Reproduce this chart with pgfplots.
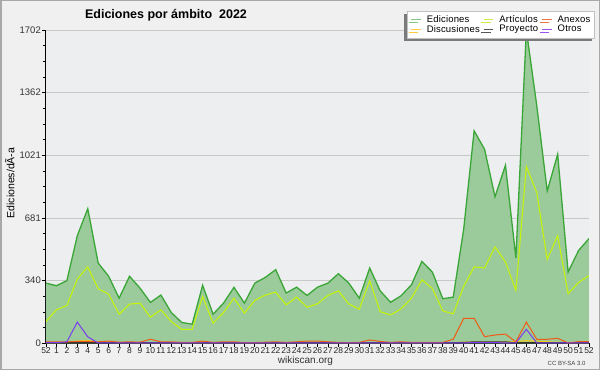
\documentclass[border=0pt]{standalone}
\usepackage{fontspec}
\setmainfont{Liberation Sans}
\usepackage{pgfplots}
\usepackage{pgfplotstable}
\pgfplotsset{compat=1.18}
\usetikzlibrary{shadows}
\definecolor{outerbg}{HTML}{F0F0F0}
\definecolor{plotbg}{HTML}{EDEEF0}
\definecolor{bordergray}{HTML}{A8A8A8}
\definecolor{gridgray}{HTML}{C8C8C8}
\definecolor{edline}{HTML}{3AA637}
\definecolor{edfill}{HTML}{9BCB9A}
\definecolor{edleg}{HTML}{85C985}
\definecolor{arline}{HTML}{C8F500}
\definecolor{arleg}{HTML}{CCEE44}
\definecolor{anline}{HTML}{F05A14}
\definecolor{anleg}{HTML}{EE7744}
\definecolor{diline}{HTML}{FFCC00}
\definecolor{dileg}{HTML}{FFCC44}
\definecolor{prline}{HTML}{333333}
\definecolor{prleg}{HTML}{555555}
\definecolor{otline}{HTML}{7A3BF0}
\definecolor{otleg}{HTML}{9955EE}
\definecolor{shadowgray}{HTML}{7A7A7A}
\definecolor{legborder}{HTML}{C0C0C0}
\newcommand\ls{\rule[-1.5pt]{0pt}{7.3pt}}

\pgfplotstableread{
i ed ar an di pr ot
0 327 118 8 4 3 3
1 313 182 8 4 3 3
2 340 205 8 5 3 8
3 585 349 10 12 3 115
4 731 415 10 14 3 35
5 436 296 8 8 3 2
6 364 267 12 5 3 2
7 245 158 6 4 3 2
8 364 213 8 4 3 2
9 300 218 6 4 3 2
10 222 142 22 4 3 2
11 262 182 8 4 3 2
12 167 118 8 4 3 2
13 113 76 5 3 2 2
14 104 76 5 3 2 2
15 315 255 12 4 3 2
16 158 109 5 3 3 2
17 218 167 8 4 3 2
18 304 245 8 4 3 2
19 218 164 4 4 3 2
20 327 233 4 4 3 2
21 358 262 6 4 3 2
22 400 278 8 4 3 2
23 273 209 5 4 3 2
24 305 251 8 4 3 2
25 260 196 12 4 3 2
26 305 215 12 4 3 2
27 327 260 8 4 3 2
28 378 285 5 4 3 2
29 327 213 4 4 3 2
30 245 185 5 4 3 2
31 409 340 18 4 3 2
32 285 172 10 4 3 2
33 223 154 5 4 3 2
34 258 187 8 4 3 2
35 318 245 5 4 3 2
36 445 345 5 4 3 2
37 387 298 5 4 3 2
38 242 176 5 4 3 2
39 251 160 22 4 3 2
40 620 309 136 6 5 2
41 1154 415 136 6 8 4
42 1054 409 36 6 8 4
43 796 524 45 6 8 4
44 967 442 50 6 8 2
45 464 287 8 10 3 2
46 1702 960 115 14 3 76
47 1290 818 22 12 3 2
48 827 455 22 8 3 2
49 1027 585 27 6 3 2
50 387 269 2 4 3 2
51 504 331 9 4 3 2
52 569 367 9 4 3 2
}\datatable

\begin{document}
\begin{tikzpicture}[x=1pt,y=1pt]
\path[use as bounding box] (0,0) rectangle (600,370);
\fill[outerbg] (0,0) rectangle (600,370);
\draw[bordergray, line width=1.5pt] (0.75,0.75) rectangle (599.25,369.25);
\begin{axis}[
  scale only axis, width=543pt, height=313.3pt,
  at={(46pt,26.7pt)}, anchor=south west,
  xmin=0, xmax=52, ymin=0, ymax=1702,
  axis background/.style={fill=plotbg},
  axis x line*=bottom, axis y line*=left,
  axis line style={black, line width=1pt, -},
  xtick={0,...,52},
  xticklabels={52,1,2,3,4,5,6,7,8,9,10,11,12,13,14,15,16,17,18,19,20,21,22,23,24,25,26,27,28,29,30,31,32,33,34,35,36,37,38,39,40,41,42,43,44,45,46,47,48,49,50,51,52},
  ytick={0,340.4,680.8,1021.2,1361.6,1702},
  yticklabels={0,340,681,1021,1362,1702},
  minor y tick num=3,
  tick align=outside,
  major tick length=3.5pt, minor tick length=3pt,
  tick style={black, line width=0.8pt},
  ymajorgrids, major grid style={gridgray, line width=0.9pt},
  xticklabel style={font=\fontsize{8.5}{9}\selectfont, inner sep=1pt, text=black!85},
  yticklabel style={font=\fontsize{9.5}{10}\selectfont, inner sep=1.5pt, text=black!80},
  legend columns=3,
  legend image code/.code={\draw[#1] (0pt,0pt) -- (9.5pt,0pt);},
  legend style={at={(1,1)}, anchor=north east, xshift=6pt, yshift=19pt,
    fill=white, draw=legborder, line width=0.6pt,
    font=\fontsize{9.5}{10}\selectfont\addfontfeatures{LetterSpace=2},
    inner sep=3.85pt,
    drop shadow={shadow xshift=-2.5pt, shadow yshift=-2.7pt, fill=shadowgray, opacity=1},
    cells={anchor=west},
    nodes={inner sep=0.5pt},
    /tikz/every odd column/.append style={column sep=5pt},
    /tikz/every even column/.append style={column sep=3pt}},
]
\addplot[fill=edfill, draw=none, forget plot] table[x=i, y=ed] {\datatable} \closedcycle;
\addplot[edline, line width=1.3pt, forget plot] table[x=i, y=ed] {\datatable};
\addplot[arline, line width=1pt, forget plot] table[x=i, y=ar] {\datatable};
\addplot[diline, line width=1pt, forget plot] table[x=i, y=di] {\datatable};
\addplot[prline, line width=1pt, forget plot] table[x=i, y=pr] {\datatable};
\addplot[anline, line width=1pt, forget plot] table[x=i, y=an] {\datatable};
\addplot[otline, line width=1pt, forget plot] table[x=i, y=ot] {\datatable};
\addlegendimage{edleg, line width=1pt}
\addlegendentry{\ls Ediciones}
\addlegendimage{arleg, line width=1pt}
\addlegendentry{\ls Artículos}
\addlegendimage{anleg, line width=1pt}
\addlegendentry{\ls Anexos}
\addlegendimage{dileg, line width=1pt}
\addlegendentry{\ls Discusiones}
\addlegendimage{prleg, line width=1pt}
\addlegendentry{\ls Proyecto}
\addlegendimage{otleg, line width=1pt}
\addlegendentry{\ls Otros}
\end{axis}
\node[font=\bfseries\fontsize{12.5}{14}\selectfont, anchor=base] at (166,351.7) {Ediciones por ámbito~~2022};
\node[rotate=90, font=\fontsize{10.5}{12}\selectfont] at (9.7,187) {Ediciones/dÃ-a};
\node[font=\fontsize{10}{12}\selectfont, text=black!80] at (305.5,9.5) {wikiscan.org};
\node[font=\fontsize{6}{7}\selectfont, anchor=east, text=black!75] at (589,7) {CC BY-SA 3.0};
\end{tikzpicture}
\end{document}
